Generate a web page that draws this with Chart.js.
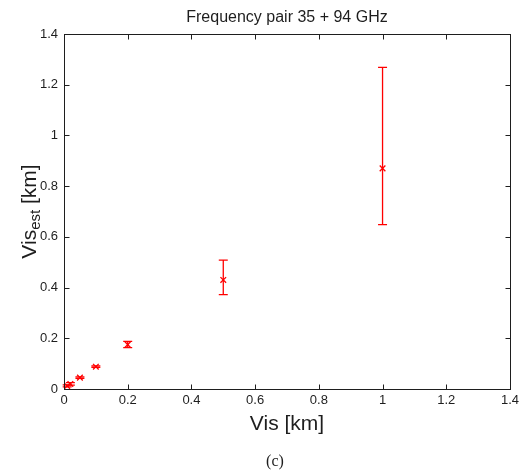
<!DOCTYPE html>
<html>
<head>
<meta charset="utf-8">
<script src="https://cdn.jsdelivr.net/npm/chart.js@4/dist/chart.umd.min.js"></script>
<style>
  html, body { margin: 0; padding: 0; background: #ffffff; }
  #wrap { width: 523px; height: 475px; position: relative; }
</style>
</head>
<body>
<div id="wrap"><canvas id="chart" width="523" height="475"></canvas></div>
<script>
// True visibility (km) and the estimated visibility with its spread
const vis      = [0.01, 0.02, 0.05, 0.1, 0.2, 0.5, 1.0];
const visEst   = [0.012, 0.02, 0.045, 0.088, 0.175, 0.43, 0.87];
const estLow   = [0.008, 0.015, 0.042, 0.085, 0.163, 0.372, 0.648];
const estHigh  = [0.016, 0.025, 0.048, 0.091, 0.188, 0.508, 1.268];

const axisMin = 0, axisMax = 1.4, axisStep = 0.2;
const titleText = 'Frequency pair 35 + 94 GHz';
const xLabel = 'Vis [km]';
const yLabelMain = 'Vis', yLabelSub = 'est', yLabelTail = ' [km]';
const caption = '(c)';

const RED = '#ff0000';
const INK = '#1e1e1e';

const points = vis.map((v, i) => ({ x: v, y: visEst[i] }));

// Vertical error bars with caps, drawn beneath the markers
const errorBars = {
  id: 'errorBars',
  beforeDatasetsDraw(chart) {
    const { ctx, scales: { x, y } } = chart;
    ctx.save();
    ctx.strokeStyle = RED;
    ctx.lineWidth = 1.3;
    const cap = 4.5;
    vis.forEach((v, i) => {
      const px = x.getPixelForValue(v);
      const lo = y.getPixelForValue(estLow[i]);
      const hi = y.getPixelForValue(estHigh[i]);
      ctx.beginPath();
      ctx.moveTo(px, lo); ctx.lineTo(px, hi);
      ctx.moveTo(px - cap, lo); ctx.lineTo(px + cap, lo);
      ctx.moveTo(px - cap, hi); ctx.lineTo(px + cap, hi);
      ctx.stroke();
    });
    ctx.restore();
  }
};

// Axes box with inward ticks on all four sides, plus title and labels
const frame = {
  id: 'frame',
  afterDraw(chart) {
    const { ctx, chartArea: a, scales: { x, y } } = chart;
    const L = Math.round(a.left) + 0.5, R = Math.round(a.right) + 0.5;
    const T = Math.round(a.top) + 0.5, B = Math.round(a.bottom) + 0.5;
    const tl = 5;
    ctx.save();
    ctx.strokeStyle = INK;
    ctx.lineWidth = 1;
    ctx.strokeRect(L, T, R - L, B - T);
    ctx.beginPath();
    x.ticks.forEach(t => {
      const px = Math.round(x.getPixelForValue(t.value)) + 0.5;
      ctx.moveTo(px, B); ctx.lineTo(px, B - tl);
      ctx.moveTo(px, T); ctx.lineTo(px, T + tl);
    });
    y.ticks.forEach(t => {
      const py = Math.round(y.getPixelForValue(t.value)) + 0.5;
      ctx.moveTo(L, py); ctx.lineTo(L + tl, py);
      ctx.moveTo(R, py); ctx.lineTo(R - tl, py);
    });
    ctx.stroke();

    const cx = (a.left + a.right) / 2;
    ctx.fillStyle = INK;
    ctx.textAlign = 'center';
    ctx.textBaseline = 'middle';

    ctx.font = '16px "Liberation Sans", Arial, sans-serif';
    ctx.fillText(titleText, cx, 18);

    ctx.font = '21px "Liberation Sans", Arial, sans-serif';
    ctx.fillText(xLabel, cx, 424);

    ctx.font = '16px "Liberation Serif", "DejaVu Serif", serif';
    ctx.fillText(caption, cx - 12, 462);

    // Rotated y label with subscript
    const mainFont = '21px "Liberation Sans", Arial, sans-serif';
    const subFont = '15px "Liberation Sans", Arial, sans-serif';
    ctx.font = mainFont;
    const w1 = ctx.measureText(yLabelMain).width;
    const w3 = ctx.measureText(yLabelTail).width;
    ctx.font = subFont;
    const w2 = ctx.measureText(yLabelSub).width;
    const total = w1 + w2 + w3;
    ctx.translate(30, (a.top + a.bottom) / 2);
    ctx.rotate(-Math.PI / 2);
    ctx.textAlign = 'left';
    let sx = -total / 2;
    ctx.font = mainFont;
    ctx.fillText(yLabelMain, sx, 0); sx += w1;
    ctx.font = subFont;
    ctx.fillText(yLabelSub, sx, 6); sx += w2;
    ctx.font = mainFont;
    ctx.fillText(yLabelTail, sx, 0);
    ctx.restore();
  }
};

const tickFont = { family: '"Liberation Sans", Arial, sans-serif', size: 13 };
const fmt = v => String(Math.round(v * 10) / 10);

new Chart(document.getElementById('chart'), {
  type: 'scatter',
  data: {
    datasets: [{
      data: points,
      showLine: false,
      pointStyle: 'crossRot',
      pointRadius: 4,
      pointHoverRadius: 4,
      borderColor: RED,
      backgroundColor: RED,
      pointBorderWidth: 1.3
    }]
  },
  options: {
    responsive: false,
    animation: false,
    events: [],
    layout: { padding: { top: 34, right: 10, left: 0, bottom: 0 } },
    plugins: { legend: { display: false }, tooltip: { enabled: false }, title: { display: false } },
    scales: {
      x: {
        type: 'linear', min: axisMin, max: axisMax,
        ticks: { stepSize: axisStep, font: tickFont, color: INK, padding: 4, maxRotation: 0, callback: fmt },
        grid: { display: false, drawTicks: false },
        border: { display: false },
        afterFit(s) { s.height = 86; }
      },
      y: {
        type: 'linear', min: axisMin, max: axisMax,
        ticks: { stepSize: axisStep, font: tickFont, color: INK, padding: 6, callback: fmt },
        grid: { display: false, drawTicks: false },
        border: { display: false },
        afterFit(s) { s.width = 64; }
      }
    }
  },
  plugins: [errorBars, frame]
});
</script>
</body>
</html>
